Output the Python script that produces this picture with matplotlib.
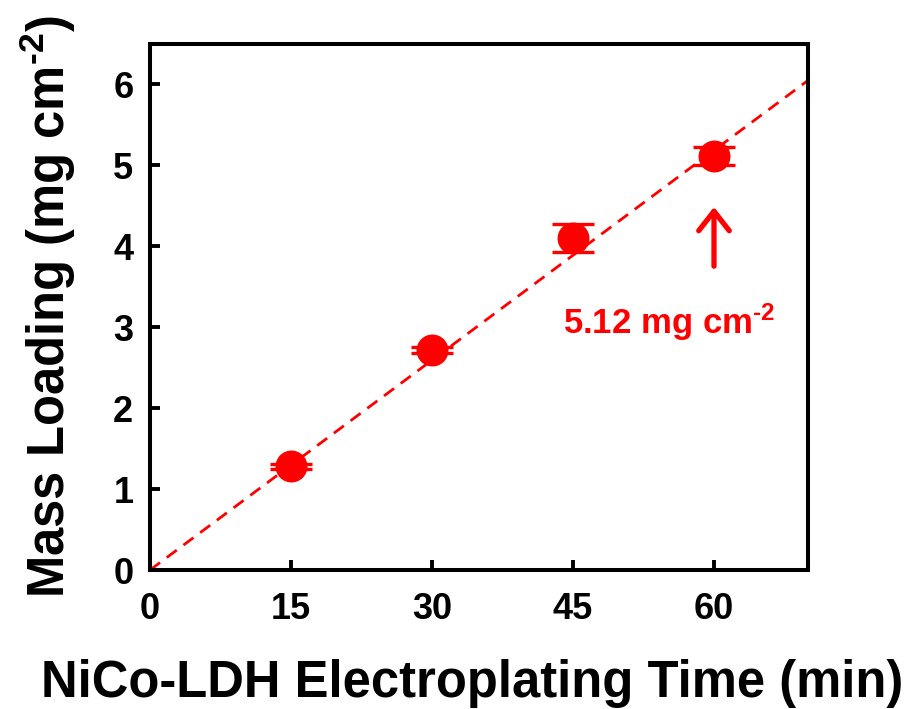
import matplotlib
matplotlib.use("Agg")
import matplotlib.pyplot as plt
from matplotlib import font_manager

# ---- data ----
time_min = [15, 30, 45, 60]
mass_loading = [1.28, 2.72, 4.10, 5.12]
mass_err = [0.03, 0.04, 0.17, 0.11]
trend_x = [0, 70]
trend_y = [0, 6.05]
xticks = [0, 15, 30, 45, 60]
yticks = [0, 1, 2, 3, 4, 5, 6]
annot_text = "5.12 mg cm$^{\\text{-2}}$"
xlabel = "NiCo-LDH Electroplating Time (min)"
ylabel = "Mass Loading (mg cm$^{\\text{-2}}$)"

names = {f.name for f in font_manager.fontManager.ttflist}
base = "Liberation Sans" if "Liberation Sans" in names else "DejaVu Sans"

plt.rcParams["font.family"] = [base, "DejaVu Sans"]
plt.rcParams["font.weight"] = "bold"
plt.rcParams["mathtext.fontset"] = "custom"
plt.rcParams["mathtext.rm"] = base + ":bold"
plt.rcParams["mathtext.bf"] = base + ":bold"
plt.rcParams["mathtext.it"] = base + ":bold"
plt.rcParams["mathtext.default"] = "bf"

fig = plt.figure(figsize=(9.14, 7.09), dpi=100)
ax = fig.add_axes([150 / 914, 1 - 570 / 709, (808 - 150) / 914, (570 - 44) / 709])

red = "#FF0000"
ax.plot(trend_x, trend_y, color=red, lw=2.0, ls=(0, (4.5, 3)), zorder=2)
ax.errorbar(time_min, mass_loading, yerr=mass_err, fmt="o", color=red,
            ms=22, mec=red, mfc=red, ecolor=red, elinewidth=2.2,
            capsize=15, capthick=2.4, zorder=3)

ax.annotate("", xy=(60, 4.52), xytext=(60, 3.72),
            arrowprops=dict(arrowstyle="->,head_length=0.7,head_width=0.55",
                            lw=3.8, color=red, mutation_scale=20))
ax.text(55.2, 3.06, annot_text, color=red, fontsize=25, fontweight="bold",
        ha="center", va="center")

ax.set_xlim(0, 70)
ax.set_ylim(0, 6.5)
ax.set_xticks(xticks)
ax.set_yticks(yticks)
ax.tick_params(direction="in", length=7, width=2.8, labelsize=26)
ax.tick_params(axis="y", pad=12)
ax.tick_params(axis="x", pad=16)
for lbl in ax.get_xticklabels() + ax.get_yticklabels():
    lbl.set_fontweight("bold")
for s in ax.spines.values():
    s.set_linewidth(2.9)

fig.text(472 / 914, 1 - 683 / 709, xlabel, fontsize=36.5, fontweight="bold",
         ha="center", va="center")
fig.text(48 / 914, 1 - 307 / 709, ylabel, fontsize=36.5, fontweight="bold",
         ha="center", va="center", rotation=90)

fig.savefig("out.png", dpi=100)
